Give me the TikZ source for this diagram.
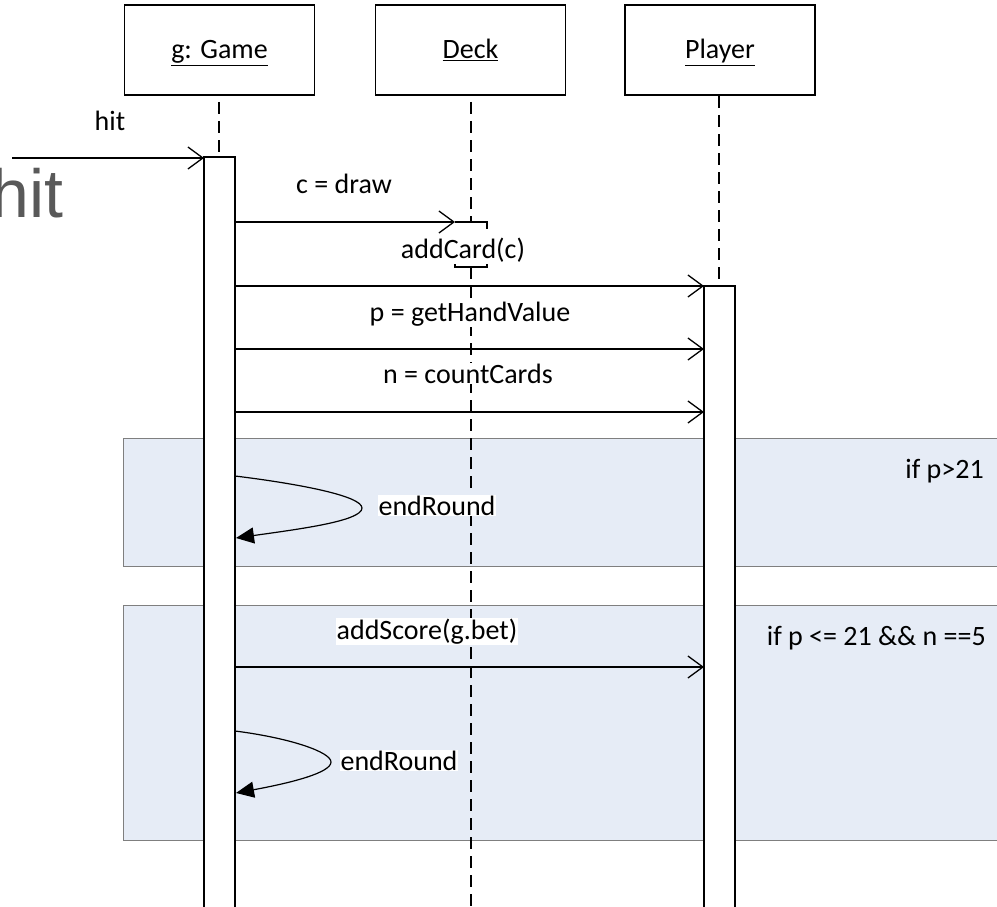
\documentclass[tikz,border=0pt]{standalone}
\usepackage{fontspec}
\setmainfont{Carlito}
\newfontfamily\arialf{Liberation Sans}
\usetikzlibrary{arrows.meta}
\definecolor{framefill}{HTML}{E6ECF6}
\definecolor{frameline}{HTML}{7F7F7F}
\definecolor{biggray}{HTML}{595959}
\tikzset{
  x=1pt, y=-1pt,
  every node/.style={font=\fontsize{28}{31}\selectfont, inner sep=1pt},
  headbox/.style={draw, line width=1.3pt, minimum width=190pt, minimum height=90pt, inner sep=0pt},
  lifeln/.style={dash pattern=on 12pt off 7pt, line width=1.3pt},
  actbar/.style={draw, fill=white, line width=1.3pt},
  msg/.style={line width=1.3pt, -{Straight Barb[length=15pt,width=22pt,line width=1.3pt]}},
  selfmsg/.style={line width=1.2pt, -{Triangle[length=18pt,width=16pt]}},
  lbl/.style={fill=white, inner sep=1pt},
  framebox/.style={fill=framefill, draw=frameline, line width=1pt},
}
\begin{document}
\begin{tikzpicture}
\useasboundingbox (0,0) rectangle (997,907);
\clip (0,0) rectangle (997,907);
% frames
\path[framebox] (123,438) rectangle (1010,566);
\path[framebox] (123,605) rectangle (1010,840);
\node[anchor=base east] (c1) at (985,478) {if p>21};
\node[anchor=base east] (c2) at (987,645) {if p <= 21 \&\& n ==5};
% heads
\node[headbox] (game) at (219.5,50) {};
\node[headbox] (deck) at (470.5,50) {};
\node[headbox] (player) at (720,50) {};
\node[anchor=base] (gamet) at (219.5,59) {\underline{g: Game}};
\node[anchor=base] (deckt) at (470.5,59) {\underline{Deck}};
\node[anchor=base] (playert) at (720,59) {\underline{Player}};
% lifelines
\draw[lifeln] (219,102) -- (219,157);
\draw[lifeln] (471,102) -- (471,222);
\draw[lifeln] (471,267) -- (471,907);
\draw[lifeln] (719,96) -- (719,286);
% activation bars
\path[actbar] (204,157) rectangle (235,912);
\path[actbar] (704,286) rectangle (735,912);
\coordinate (gL) at (204,0);
% deck small activation brackets
\draw[line width=1.3pt] (455,222) -- (487,222) -- (487,229);
\draw[line width=1.3pt] (455,264) -- (455,267) -- (487,267) -- (487,264);
% incoming hit
\coordinate (hitstart) at (12,158);
\draw[msg] (hitstart) -- (gL |- hitstart);
\node[anchor=base] (hitlbl) at (110,130) {hit};
\node[anchor=base east, text=biggray, font=\arialf\fontsize{68}{72}\selectfont, inner sep=0pt] (bighit) at (64,217) {hit};
% messages
\draw[msg] (235,222) -- (455,222);
\node[anchor=base] (m1) at (344,193) {c = draw};
\node[lbl, anchor=base] (m2) at (463,258) {addCard(c)};
\draw[msg] (235,286) -- (704,286);
\node[lbl, anchor=base] (m3) at (470,321) {p = getHandValue};
\draw[msg] (235,349) -- (704,349);
\node[lbl, anchor=base] (m4) at (468,383) {n = countCards};
\draw[msg] (235,412) -- (704,412);
% self call 1
\draw[selfmsg] (235,476) .. controls (300,484) and (362,496) .. (362,508) .. controls (362,521) and (300,529) .. (236,538);
\node[lbl, anchor=base] (e1) at (437,515) {endRound};
% addScore
\node[lbl, anchor=base] (m5) at (427,639) {addScore(g.bet)};
\draw[msg] (235,667) -- (704,667);
% self call 2
\draw[selfmsg] (235,731) .. controls (290,738) and (331,752) .. (331,762) .. controls (331,773) and (290,783) .. (236,793);
\node[lbl, anchor=base] (e2) at (399,770) {endRound};
\end{tikzpicture}
\end{document}
